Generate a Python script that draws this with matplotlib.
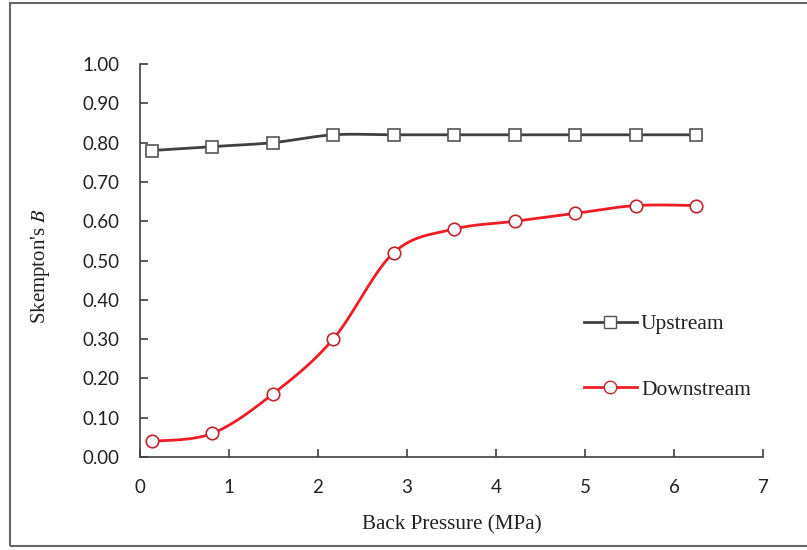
import matplotlib
matplotlib.use("Agg")
import matplotlib.pyplot as plt
from matplotlib.lines import Line2D
from matplotlib.patches import Rectangle
import numpy as np

plt.rcParams["mathtext.fontset"] = "stix"

# Back pressure (MPa) and Skempton's B readings
pressure = [0.13, 0.81, 1.49, 2.17, 2.85, 3.53, 4.21, 4.89, 5.57, 6.25]
upstream = [0.78, 0.79, 0.80, 0.82, 0.82, 0.82, 0.82, 0.82, 0.82, 0.82]
downstream = [0.04, 0.06, 0.16, 0.30, 0.52, 0.58, 0.60, 0.62, 0.64, 0.64]


def smooth(x, y, n=30):
    # Excel-like smoothed line (Catmull-Rom through the points)
    x = np.asarray(x, float)
    y = np.asarray(y, float)
    px = np.concatenate([[x[0]], x, [x[-1]]])
    py = np.concatenate([[y[0]], y, [y[-1]]])
    xs, ys = [], []
    t = np.linspace(0, 1, n)
    for i in range(1, len(px) - 2):
        p0, p1, p2, p3 = (np.array([px[j], py[j]]) for j in range(i - 1, i + 3))
        c1 = p1 + (p2 - p0) / 6
        c2 = p2 - (p3 - p1) / 6
        b = ((1 - t) ** 3)[:, None] * p1 + (3 * (1 - t) ** 2 * t)[:, None] * c1 \
            + (3 * (1 - t) * t ** 2)[:, None] * c2 + (t ** 3)[:, None] * p2
        xs.extend(b[:, 0])
        ys.extend(b[:, 1])
    return xs, ys


tick_font = "Lato"
serif = "Liberation Serif"
gray = "#404040"

fig = plt.figure(figsize=(8.07, 5.5), dpi=100)
fig.patches.append(Rectangle((9.5 / 807, 4 / 550), 1.0, 543 / 550, transform=fig.transFigure,
                             fill=False, edgecolor="#666666", linewidth=1.5))
ax = fig.add_axes([0.1735, 0.169, 0.772, 0.7145])

ux, uy = smooth(pressure, upstream)
dx, dy = smooth(pressure, downstream)
ax.plot(ux, uy, color="#404040", linewidth=2, zorder=2)
ax.plot(dx, dy, color="#ee1c25", linewidth=2, zorder=2)
ax.plot(pressure, upstream, linestyle="none", marker="s", markersize=8.5,
        markerfacecolor="white", markeredgecolor="#555555", markeredgewidth=1.2, zorder=3)
ax.plot(pressure, downstream, linestyle="none", marker="o", markersize=9,
        markerfacecolor="white", markeredgecolor="#c0262d", markeredgewidth=1.2, zorder=3)

ax.set_xlim(0, 7)
ax.set_ylim(0, 1.0)
ax.set_xticks(range(0, 8))
ax.set_yticks(np.arange(0, 1.01, 0.1))
ax.set_yticklabels([f"{v:.2f}" for v in np.arange(0, 1.01, 0.1)])
for s in ["top", "right"]:
    ax.spines[s].set_visible(False)
for s in ["left", "bottom"]:
    ax.spines[s].set_color(gray)
    ax.spines[s].set_linewidth(1.2)
ax.tick_params(direction="in", length=6, width=1.2, color=gray, labelcolor="#222222",
               labelsize=13.5)
ax.tick_params(axis="x", pad=15.5)
ax.tick_params(axis="y", pad=15)
for lab in ax.get_xticklabels() + ax.get_yticklabels():
    lab.set_fontfamily(tick_font)

ax.set_xlabel("Back Pressure (MPa)", fontfamily=serif, fontsize=15.2, color="#222222")
ax.set_ylabel("Skempton's $\\it{B}$", fontfamily=serif, fontsize=15, color="#222222")
ax.xaxis.set_label_coords(0.5, -0.147)
ax.yaxis.set_label_coords(-0.141, 0.486)

handles = [
    Line2D([], [], color="#404040", linewidth=2, marker="s", markersize=8.5,
           markerfacecolor="white", markeredgecolor="#555555"),
    Line2D([], [], color="#ee1c25", linewidth=2, marker="o", markersize=9,
           markerfacecolor="white", markeredgecolor="#c0262d"),
]
leg = ax.legend(handles, ["Upstream", "Downstream"], loc="center left",
                bbox_to_anchor=(0.695, 0.255), frameon=False, borderpad=0,
                labelspacing=2.1, handlelength=2.46, handletextpad=0.2,
                prop={"family": serif, "size": 15.5})
for t in leg.get_texts():
    t.set_color("#222222")

fig.savefig("out.png", dpi=100)
